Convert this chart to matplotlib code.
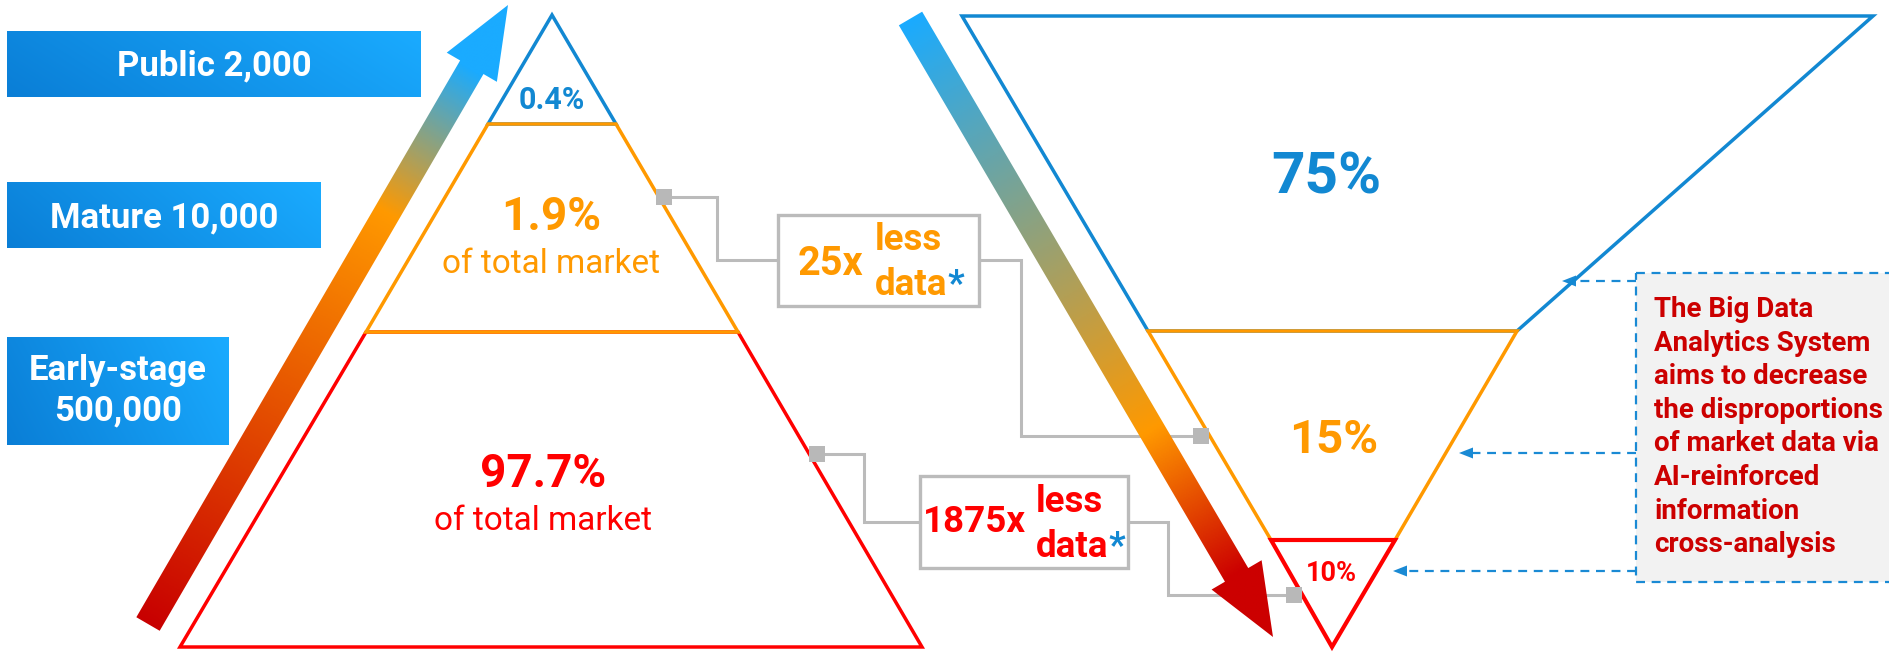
import numpy as np
import matplotlib.pyplot as plt
from matplotlib.patches import Polygon, Rectangle
from matplotlib.colors import LinearSegmentedColormap

plt.rcParams['font.family'] = ['Roboto', 'DejaVu Sans']

# data
stages = ['Public', 'Mature', 'Early-stage']
companies = ['2,000', '10,000', '500,000']
market_share = ['0.4%', '1.9%', '97.7%']
data_share = ['75%', '15%', '10%']
less_data = ['25x', '1875x']
note_lines = ['The Big Data', 'Analytics System', 'aims to decrease',
              'the disproportions', 'of market data via', 'AI-reinforced',
              'information', 'cross-analysis']

BLUE = '#1288d2'
ORANGE = '#ff9900'
RED = '#ff0000'
DARKRED = '#cc0000'
LIGHTBLUE = '#1aabff'
GREY = '#bbbbbb'

W, H = 1889, 652
fig = plt.figure(figsize=(W / 100, H / 100), dpi=100)
ax = fig.add_axes([0, 0, 1, 1])
ax.set_xlim(0, W)
ax.set_ylim(H, 0)
ax.axis('off')


def gradient_fill(patch, func, x0, x1, y0, y1, cmap, n=400):
    xs = np.linspace(x0, x1, n)
    ys = np.linspace(y0, y1, n)
    X, Y = np.meshgrid(xs, ys)
    im = ax.imshow(func(X, Y), cmap=cmap, vmin=0, vmax=1, extent=(x0, x1, y1, y0),
                   origin='upper', aspect='auto', interpolation='bilinear', zorder=patch.get_zorder())
    im.set_clip_path(patch)


def grad_arrow(start, tip, width, head_w, head_len, stops, z=5):
    s = np.array(start, float)
    e = np.array(tip, float)
    d = e - s
    L = np.hypot(*d)
    u = d / L
    nrm = np.array([-u[1], u[0]])
    hb = e - u * head_len
    pts = [s + nrm * width / 2, hb + nrm * width / 2, hb + nrm * head_w / 2, e,
           hb - nrm * head_w / 2, hb - nrm * width / 2, s - nrm * width / 2]
    poly = Polygon(pts, closed=True, facecolor='none', edgecolor='none', zorder=z)
    ax.add_patch(poly)
    pts = np.array(pts)
    cmap = LinearSegmentedColormap.from_list('g', stops)
    f = lambda X, Y: np.clip(((X - s[0]) * u[0] + (Y - s[1]) * u[1]) / (L - head_len), 0, 1)
    gradient_fill(poly, f, pts[:, 0].min() - 2, pts[:, 0].max() + 2,
                  pts[:, 1].min() - 2, pts[:, 1].max() + 2, cmap)


# blue label boxes
box_cmap = LinearSegmentedColormap.from_list('b', ['#0a7ed6', LIGHTBLUE])
label_boxes = [(7, 31, 421, 97), (7, 182, 321, 248), (7, 337, 229, 445)]
for (x0, y0, x1, y1) in label_boxes:
    r = Rectangle((x0, y0), x1 - x0, y1 - y0, facecolor='none', edgecolor='none', zorder=2)
    ax.add_patch(r)
    f = lambda X, Y, x0=x0, x1=x1, y0=y0, y1=y1: np.clip(
        0.8 * (X - x0) / (x1 - x0) + 0.2 * (y1 - Y) / (y1 - y0), 0, 1)
    gradient_fill(r, f, x0, x1, y0, y1, box_cmap)

lab_font = dict(color='white', fontsize=25, fontweight='bold', ha='center', va='baseline', zorder=6)
ax.text(214, 75, f'{stages[0]} {companies[0]}', **lab_font)
ax.text(164, 227, f'{stages[1]} {companies[1]}', **lab_font)
ax.text(118, 380, stages[2], **lab_font)
ax.text(118, 420, companies[2], **lab_font)

# left pyramid
lw = 2.5
ax.add_patch(Polygon([(180, 647), (922, 647), (738, 332), (366, 332)], closed=True,
                     fill=False, edgecolor=RED, lw=lw, joinstyle='miter', zorder=3))
ax.add_patch(Polygon([(552, 15), (616, 124), (488, 124)], closed=True,
                     fill=False, edgecolor=BLUE, lw=lw, joinstyle='miter', zorder=3))
ax.add_patch(Polygon([(366, 332), (738, 332), (616, 124), (488, 124)], closed=True,
                     fill=False, edgecolor=ORANGE, lw=lw, joinstyle='miter', zorder=3))

ax.text(552, 109, market_share[0], color=BLUE, fontsize=22, fontweight='bold', ha='center', va='baseline')
ax.text(551, 230, market_share[1], color=ORANGE, fontsize=33, fontweight='bold', ha='center', va='baseline')
ax.text(551, 273, 'of total market', color=ORANGE, fontsize=24, ha='center', va='baseline')
ax.text(543, 487, market_share[2], color=RED, fontsize=33, fontweight='bold', ha='center', va='baseline')
ax.text(543, 530, 'of total market', color=RED, fontsize=24, ha='center', va='baseline')

# right funnel
ax.add_patch(Polygon([(962, 16), (1873, 16), (1517, 331), (1148, 331)], closed=True,
                     fill=False, edgecolor=BLUE, lw=lw, joinstyle='miter', zorder=3))
ax.add_patch(Polygon([(1148, 331), (1517, 331), (1395, 540), (1271, 540)], closed=True,
                     fill=False, edgecolor=ORANGE, lw=lw, joinstyle='miter', zorder=3))
ax.add_patch(Polygon([(1271, 540), (1395, 540), (1332, 647)], closed=True,
                     fill=False, edgecolor=RED, lw=lw + 0.5, joinstyle='miter', zorder=3))

ax.text(1326, 193, data_share[0], color=BLUE, fontsize=42, fontweight='bold', ha='center', va='baseline')
ax.text(1334, 453, data_share[1], color=ORANGE, fontsize=34, fontweight='bold', ha='center', va='baseline')
ax.text(1331, 581, data_share[2], color=RED, fontsize=19.5, fontweight='bold', ha='center', va='baseline')

# connectors
con = dict(color=GREY, lw=2.2, zorder=2, solid_joinstyle='miter')
ax.plot([664, 717, 717, 778], [197, 197, 260, 260], **con)
ax.plot([979, 1021, 1021, 1201], [260, 260, 436, 436], **con)
ax.plot([817, 864, 864, 920], [454, 454, 522, 522], **con)
ax.plot([1128, 1168, 1168, 1294], [522, 522, 595, 595], **con)
for (cx, cy) in [(664, 197), (1201, 436), (817, 454), (1294, 595)]:
    ax.add_patch(Rectangle((cx - 8, cy - 8), 16, 16, facecolor='#b8b8b8', edgecolor='none', zorder=4))

boxes = [(778, 215, 979, 306), (920, 476, 1128, 568)]
for (x0, y0, x1, y1) in boxes:
    ax.add_patch(Rectangle((x0, y0), x1 - x0, y1 - y0, facecolor='white', edgecolor=GREY, lw=2.4, zorder=3))

mult = [(830, 275, 28.5, 875, 250, 295, ORANGE), (975, 532, 26.5, 1036, 512, 557, RED)]
for txt, (mx, my, fs, lx, ly, dy, c) in zip(less_data, mult):
    ax.text(mx, my, txt, color=c, fontsize=fs, fontweight='bold', ha='center', va='baseline', zorder=5)
    ax.text(lx, ly, 'less', color=c, fontsize=26.5, fontweight='bold', ha='left', va='baseline', zorder=5)
    t = ax.text(lx, dy, 'data', color=c, fontsize=26.5, fontweight='bold', ha='left', va='baseline', zorder=5)
    ax.annotate('*', xy=(1, 0), xycoords=t, color=BLUE, fontsize=26.5, fontweight='bold',
                ha='left', va='bottom', zorder=5)

# gradient arrows
grad_arrow((148, 624), (508, 5), 27, 58, 72,
           [(0, '#c80000'), (0.74, ORANGE), (1, LIGHTBLUE)])
grad_arrow((910.5, 18.5), (1273, 637), 27, 58, 72,
           [(0, LIGHTBLUE), (0.74, ORANGE), (1, DARKRED)])

# note box
DASH = '#1a8ad4'
ax.add_patch(Rectangle((1636, 273), 270, 309, facecolor='#f2f2f2', edgecolor=DASH,
                       lw=1.6, linestyle=(0, (4, 3)), zorder=2))
for (tx, ty) in [(1562, 281), (1459, 453), (1393, 571)]:
    ax.plot([1636, tx + 10], [ty, ty], color=DASH, lw=1.6, linestyle=(0, (4, 3)), zorder=2)
    ax.add_patch(Polygon([(tx, ty), (tx + 14, ty - 5.5), (tx + 14, ty + 5.5)], closed=True,
                         facecolor=DASH, edgecolor='none', zorder=2))

for i, line in enumerate(note_lines):
    ax.text(1654, 317 + i * 33.6, line, color=DARKRED, fontsize=20, fontweight='bold',
            ha='left', va='baseline', zorder=5)

ax.set_xlim(0, W)
ax.set_ylim(H, 0)
fig.savefig('out.png', dpi=100)
